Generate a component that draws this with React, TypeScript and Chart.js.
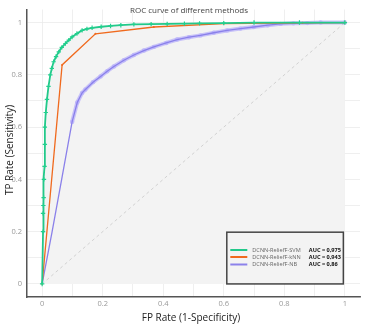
import React, { useEffect, useRef } from "react";
import { Chart, registerables } from "chart.js";

Chart.register(...registerables);

const svmX = [0, 0.003, 0.003, 0.004, 0.005, 0.006, 0.008, 0.009, 0.009, 0.012, 0.016, 0.021, 0.027, 0.032, 0.038, 0.046, 0.055, 0.065, 0.077, 0.088, 0.099, 0.115, 0.132, 0.148, 0.165, 0.195, 0.226, 0.26, 0.303, 0.36, 0.413, 0.47, 0.52, 0.6, 0.7, 0.85, 1];
const svmY = [0, 0.2, 0.27, 0.3, 0.33, 0.4, 0.45, 0.534, 0.6, 0.656, 0.706, 0.756, 0.8, 0.825, 0.85, 0.87, 0.888, 0.905, 0.92, 0.933, 0.945, 0.958, 0.97, 0.976, 0.98, 0.984, 0.987, 0.99, 0.993, 0.994, 0.995, 0.996, 0.997, 0.998, 1, 1, 1];

const knnX = [0, 0.066, 0.176, 0.369, 0.6, 0.86, 1];
const knnY = [0, 0.838, 0.957, 0.983, 0.996, 0.999, 1];

const nbX = [0, 0.033, 0.066, 0.099, 0.116, 0.132, 0.143, 0.168, 0.193, 0.215, 0.237, 0.27, 0.303, 0.336, 0.369, 0.41, 0.446, 0.485, 0.523, 0.567, 0.611, 0.655, 0.699, 0.745, 0.788, 0.83, 0.876, 0.92, 1];
const nbY = [0, 0.2, 0.41, 0.62, 0.694, 0.731, 0.744, 0.772, 0.794, 0.814, 0.832, 0.856, 0.876, 0.893, 0.907, 0.922, 0.935, 0.944, 0.951, 0.961, 0.97, 0.977, 0.983, 0.99, 0.995, 0.997, 0.998, 1, 1];
const nbHaloStart = 3;

const seriesNames = ["DCNN-ReliefF-SVM", "DCNN-ReliefF-kNN", "DCNN-ReliefF-NB"];
const aucLabels = ["AUC = 0,975", "AUC = 0,943", "AUC = 0,86"];
const seriesColors = ["#22c98a", "#f06a1e", "#8c82ea"];
const tickValues = [0, 0.1, 0.2, 0.3, 0.4, 0.5, 0.6, 0.7, 0.8, 0.9, 1];

const FONT = "'Open Sans', 'Noto Sans', sans-serif";

const toPts = (xs: number[], ys: number[]) => xs.map((x, i) => ({ x, y: ys[i] }));

const overlayPlugin = {
  id: "overlay",
  afterDraw(chart: any) {
    const ctx = chart.ctx;
    ctx.save();
    // title
    ctx.fillStyle = "#444";
    ctx.font = `8px ${FONT}`;
    ctx.textAlign = "center";
    ctx.textBaseline = "middle";
    ctx.fillText("ROC curve of different methods", 189, 11);
    // axis titles
    ctx.fillStyle = "#222";
    ctx.font = `10px ${FONT}`;
    ctx.fillText("FP Rate (1-Specificity)", 191, 318);
    ctx.save();
    ctx.translate(10, 150);
    ctx.rotate(-Math.PI / 2);
    ctx.fillText("TP Rate (Sensitivity)", 0, 0);
    ctx.restore();
    // legend
    const xs = chart.scales.x;
    const ys = chart.scales.y;
    const bx = xs.getPixelForValue(0.61);
    const by = ys.getPixelForValue(0.198);
    const bx2 = xs.getPixelForValue(0.995);
    const by2 = ys.getPixelForValue(0);
    ctx.fillStyle = "#f3f3f3";
    ctx.fillRect(bx, by, bx2 - bx, by2 - by);
    ctx.strokeStyle = "#444";
    ctx.lineWidth = 1.5;
    ctx.strokeRect(bx, by, bx2 - bx, by2 - by);
    const rows = [250, 257, 264.5];
    ctx.textAlign = "left";
    rows.forEach((ry, i) => {
      ctx.strokeStyle = seriesColors[i];
      ctx.lineWidth = 2;
      ctx.beginPath();
      ctx.moveTo(bx + 3.5, ry);
      ctx.lineTo(bx + 20.5, ry);
      ctx.stroke();
      ctx.fillStyle = "#666";
      ctx.font = `5.6px ${FONT}`;
      ctx.fillText(seriesNames[i], bx + 25.5, ry);
      ctx.fillStyle = "#111";
      ctx.font = `bold 5.6px ${FONT}`;
      ctx.fillText(aucLabels[i], bx + 82, ry);
    });
    ctx.restore();
  },
};

export default function App() {
  const ref = useRef<HTMLCanvasElement>(null);
  useEffect(() => {
    document.body.style.margin = "0";
    const canvas = ref.current!;
    const chart = new Chart(canvas, {
      type: "scatter",
      data: {
        datasets: [
          {
            label: "diag",
            data: [{ x: 0, y: 0 }, { x: 1, y: 1 }],
            showLine: true,
            borderColor: "#c8c8c8",
            borderWidth: 0.8,
            borderDash: [3, 3],
            pointRadius: 0,
            order: 5,
          },
          {
            label: "nb-halo",
            data: toPts(nbX, nbY).slice(nbHaloStart),
            showLine: true,
            borderColor: "rgba(185,178,250,0.75)",
            borderWidth: 4,
            pointRadius: 2.2,
            pointBackgroundColor: "rgba(185,178,250,0.8)",
            pointBorderWidth: 0,
            order: 4,
          },
          {
            label: seriesNames[2],
            data: toPts(nbX, nbY),
            showLine: true,
            borderColor: "#8a80ea",
            borderWidth: 1.3,
            pointRadius: 0,
            order: 3,
          },
          {
            label: seriesNames[1],
            data: toPts(knnX, knnY),
            showLine: true,
            borderColor: "#f06a1e",
            borderWidth: 1.3,
            pointRadius: 1,
            pointBackgroundColor: "#f06a1e",
            pointBorderWidth: 0,
            order: 2,
          },
          {
            label: seriesNames[0],
            data: toPts(svmX, svmY),
            showLine: true,
            borderColor: "#22c98a",
            borderWidth: 1.8,
            pointStyle: "cross",
            pointRadius: 2.2,
            pointBorderColor: "#22d08e",
            pointBorderWidth: 1.2,
            fill: "origin",
            backgroundColor: "#f3f3f3",
            order: 1,
          },
        ],
      },
      options: {
        responsive: false,
        animation: false,
        layout: { padding: { top: 6, right: 7, left: 0, bottom: 0 } },
        plugins: {
          legend: { display: false },
          title: { display: false },
          tooltip: { enabled: false },
          filler: { drawTime: "beforeDatasetsDraw" },
        },
        scales: {
          x: {
            type: "linear",
            min: -0.05,
            max: 1.05,
            afterBuildTicks: (s: any) => {
              s.ticks = tickValues.map((v) => ({ value: v }));
            },
            afterFit: (s: any) => {
              s.height = 30;
            },
            grid: { color: "#ebebeb", lineWidth: 0.8, drawTicks: false },
            border: { display: true, color: "#555", width: 1.5 },
            ticks: {
              padding: 2,
              color: "#999",
              font: { family: FONT, size: 7.5 },
              maxRotation: 0,
              autoSkip: false,
              callback: (v: any, i: number) => (i % 2 === 0 ? String(Math.round(v * 10) / 10) : ""),
            },
          },
          y: {
            type: "linear",
            min: -0.05,
            max: 1.05,
            afterBuildTicks: (s: any) => {
              s.ticks = tickValues.map((v) => ({ value: v }));
            },
            afterFit: (s: any) => {
              s.width = 27;
            },
            grid: { color: "#ebebeb", lineWidth: 0.8, drawTicks: false },
            border: { display: true, color: "#555", width: 1.5 },
            ticks: {
              padding: 5,
              color: "#999",
              font: { family: FONT, size: 7.5 },
              autoSkip: false,
              callback: (v: any, i: number) => (i % 2 === 0 ? String(Math.round(v * 10) / 10) : ""),
            },
          },
        },
      },
      plugins: [overlayPlugin],
    } as any);
    return () => chart.destroy();
  }, []);
  return (
    <div style={{ width: 367, height: 327, background: "#fff" }}>
      <canvas ref={ref} width={367} height={327} />
    </div>
  );
}
